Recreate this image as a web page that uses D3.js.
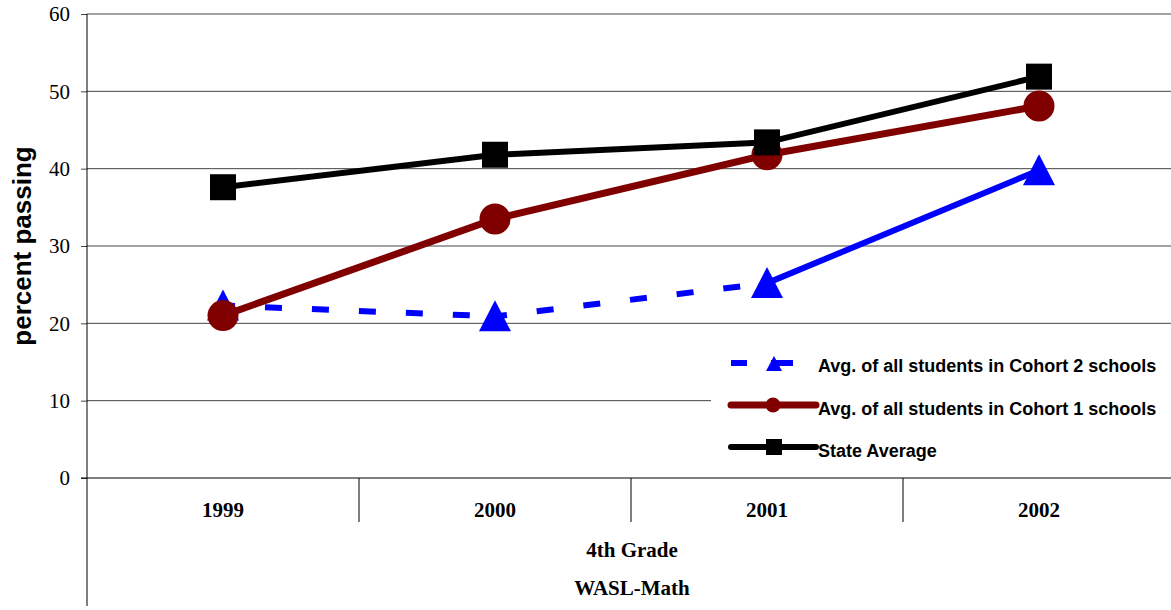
<!DOCTYPE html>
<html>
<head>
<meta charset="utf-8">
<script src="https://cdn.jsdelivr.net/npm/d3@7"></script>
<style>
  html, body { margin: 0; padding: 0; background: #fff; }
  svg { display: block; }
</style>
</head>
<body>
<svg id="chart" width="1171" height="610"></svg>
<script>
// Data
const years = ["1999", "2000", "2001", "2002"];
const stateAverage = [37.6, 41.8, 43.4, 51.9];
const cohort1 = [21.0, 33.5, 41.8, 48.1];
const cohort2 = [22.3, 20.9, 25.2, 39.8];
// segments of the Cohort 2 line drawn dashed (index of segment start)
const cohort2DashedSegments = [0, 1];
const yTicks = [0, 10, 20, 30, 40, 50, 60];
const groupLabels = ["4th Grade", "WASL-Math"];
const legendLabels = [
  "Avg. of all students in Cohort 2 schools",
  "Avg. of all students in Cohort 1 schools",
  "State Average"
];

const svg = d3.select("#chart");
const W = 1171, H = 610;
const plotLeft = 87, plotRight = 1175, plotTop = 14, plotBottom = 478;
const serif = "'Liberation Serif', 'Times New Roman', serif";
const sans = "'Liberation Sans', Arial, sans-serif";

const x = d3.scaleBand().domain(years).range([plotLeft, plotRight]);
const y = d3.scaleLinear().domain([0, 60]).range([plotBottom, plotTop]);
const cx = d => x(d) + x.bandwidth() / 2;

// Gridlines
svg.append("g").selectAll("line").data(yTicks.filter(t => t > 0)).join("line")
  .attr("x1", plotLeft).attr("x2", W)
  .attr("y1", d => y(d)).attr("y2", d => y(d))
  .attr("stroke", "#444").attr("stroke-width", 1);

// Y axis
const yAxis = d3.axisLeft(y).tickValues(yTicks).tickSize(6).tickPadding(11);
const yg = svg.append("g").attr("transform", `translate(${plotLeft},0)`).call(yAxis);
yg.select(".domain").remove();
yg.selectAll(".tick line").attr("stroke", "#444");
yg.selectAll(".tick text")
  .attr("font-family", serif)
  .attr("font-size", 21).attr("fill", "#000");
svg.append("line").attr("x1", plotLeft).attr("x2", plotLeft).attr("y1", plotTop).attr("y2", 606)
  .attr("stroke", "#000").attr("stroke-width", 1);

// X axis line and category separators
svg.append("line").attr("x1", plotLeft - 6).attr("x2", W).attr("y1", plotBottom).attr("y2", plotBottom)
  .attr("stroke", "#000").attr("stroke-width", 1);
svg.append("g").selectAll("line").data(years.slice(1)).join("line")
  .attr("x1", d => x(d)).attr("x2", d => x(d))
  .attr("y1", plotBottom).attr("y2", plotBottom + 44)
  .attr("stroke", "#000").attr("stroke-width", 1);
svg.append("g").selectAll("text").data(years).join("text")
  .attr("x", d => cx(d)).attr("y", 517)
  .attr("text-anchor", "middle")
  .attr("font-family", serif)
  .attr("font-weight", "bold").attr("font-size", 21)
  .text(d => d);
svg.append("g").selectAll("text").data(groupLabels).join("text")
  .attr("x", (plotLeft + plotRight) / 2 + 1).attr("y", (d, i) => 557 + i * 38)
  .attr("text-anchor", "middle")
  .attr("font-family", serif)
  .attr("font-weight", "bold").attr("font-size", 21)
  .text(d => d);

// Y axis title
svg.append("text")
  .attr("transform", "translate(31,246) rotate(-90)")
  .attr("text-anchor", "middle")
  .attr("font-family", sans)
  .attr("font-weight", "bold").attr("font-size", 26)
  .text("percent passing");

const line = d3.line().x(d => cx(d.year)).y(d => y(d.v));
const pts = arr => arr.map((v, i) => ({ year: years[i], v }));
const triPath = s => `M0,${-s}L${s},${s - 1}L${-s},${s - 1}Z`;

// Cohort 2 (blue): dashed then solid segments
const c2 = pts(cohort2);
const gBlue = svg.append("g");
for (let i = 0; i < c2.length - 1; i++) {
  const dashed = cohort2DashedSegments.includes(i);
  gBlue.append("path")
    .attr("d", line([c2[i], c2[i + 1]]))
    .attr("fill", "none").attr("stroke", "#0000ff").attr("stroke-width", 6)
    .attr("stroke-dasharray", dashed ? "17,30" : null)
    .attr("stroke-dashoffset", dashed ? 5 : null);
}
gBlue.selectAll("path.m").data(c2).join("path").attr("class", "m")
  .attr("d", triPath(16))
  .attr("transform", d => `translate(${cx(d.year)},${y(d.v)})`)
  .attr("fill", "#0000ff");

// Cohort 1 (dark red)
const c1 = pts(cohort1);
svg.append("path").attr("d", line(c1)).attr("fill", "none")
  .attr("stroke", "#800000").attr("stroke-width", 7);
svg.append("g").selectAll("circle").data(c1).join("circle")
  .attr("cx", d => cx(d.year)).attr("cy", d => y(d.v)).attr("r", 15.5)
  .attr("fill", "#800000");

// State average (black)
const sa = pts(stateAverage);
svg.append("path").attr("d", line(sa)).attr("fill", "none")
  .attr("stroke", "#000").attr("stroke-width", 6);
svg.append("g").selectAll("rect").data(sa).join("rect")
  .attr("x", d => cx(d.year) - 13).attr("y", d => y(d.v) - 13)
  .attr("width", 26).attr("height", 26).attr("fill", "#000");

// Legend
const lg = svg.append("g");
lg.append("rect").attr("x", 711).attr("y", 332).attr("width", W - 711).attr("height", 140)
  .attr("fill", "#fff");
const rowY = [363, 405, 447];
const textY = [372, 415, 457];
const lx0 = 731, lx1 = 816, lmid = 774;
// Cohort 2 entry
lg.append("line").attr("x1", lx0).attr("x2", lx1).attr("y1", rowY[0]).attr("y2", rowY[0])
  .attr("stroke", "#0000ff").attr("stroke-width", 6).attr("stroke-dasharray", "16,24,22,40");
lg.append("path").attr("d", triPath(8))
  .attr("transform", `translate(${lmid},${rowY[0] + 1})`).attr("fill", "#0000ff");
// Cohort 1 entry
lg.append("line").attr("x1", lx0).attr("x2", lx1).attr("y1", rowY[1]).attr("y2", rowY[1])
  .attr("stroke", "#800000").attr("stroke-width", 7).attr("stroke-linecap", "round");
lg.append("circle").attr("cx", lmid - 1).attr("cy", rowY[1]).attr("r", 7.5).attr("fill", "#800000");
// State average entry
lg.append("line").attr("x1", lx0).attr("x2", lx1).attr("y1", rowY[2]).attr("y2", rowY[2])
  .attr("stroke", "#000").attr("stroke-width", 6).attr("stroke-linecap", "round");
lg.append("rect").attr("x", lmid - 8).attr("y", rowY[2] - 8)
  .attr("width", 16).attr("height", 16).attr("fill", "#000");
lg.selectAll("text").data(legendLabels).join("text")
  .attr("x", 818).attr("y", (d, i) => textY[i])
  .attr("font-family", sans)
  .attr("font-weight", "bold").attr("font-size", 18)
  .text(d => d);
</script>
</body>
</html>
